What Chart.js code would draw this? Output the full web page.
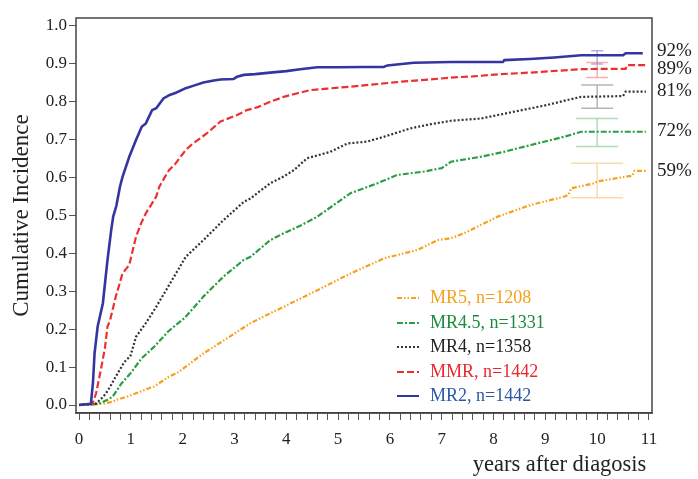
<!DOCTYPE html>
<html><head><meta charset="utf-8">
<script src="https://cdn.jsdelivr.net/npm/chart.js@4"></script>
<style>html,body{margin:0;padding:0;background:#fff}</style>
</head><body>
<canvas id="c" width="698" height="479"></canvas>
<script>
// ---- data ----
const seriesNames = ['MR2', 'MMR', 'MR4', 'MR4.5', 'MR5'];
const seriesN = [1442, 1442, 1358, 1331, 1208];

const mr2Years = [0, 0.23, 0.27, 0.30, 0.36, 0.46, 0.55, 0.62, 0.66, 0.72, 0.79, 0.84, 0.97, 1.10, 1.21, 1.29, 1.41, 1.49, 1.63, 1.75, 1.87, 2.06, 2.20, 2.40, 2.60, 2.73, 2.98, 3.05, 3.18, 3.40, 3.69, 4.00, 4.27, 4.60, 5.00, 5.50, 5.88, 5.95, 6.46, 7.18, 8.18, 8.21, 8.70, 9.17, 9.69, 10.50, 10.55, 10.88];
const mr2CumInc = [0, 0.003, 0.06, 0.136, 0.207, 0.268, 0.383, 0.460, 0.497, 0.525, 0.576, 0.602, 0.655, 0.699, 0.734, 0.743, 0.778, 0.783, 0.809, 0.818, 0.824, 0.836, 0.842, 0.851, 0.856, 0.859, 0.860, 0.866, 0.871, 0.873, 0.877, 0.881, 0.886, 0.891, 0.891, 0.892, 0.892, 0.896, 0.903, 0.905, 0.905, 0.910, 0.913, 0.917, 0.923, 0.923, 0.928, 0.928];

const mmrYears = [0, 0.26, 0.33, 0.42, 0.50, 0.55, 0.60, 0.71, 0.84, 0.97, 1.10, 1.20, 1.29, 1.40, 1.49, 1.55, 1.65, 1.74, 1.85, 2.06, 2.20, 2.47, 2.73, 3.05, 3.24, 3.45, 3.69, 3.95, 4.20, 4.47, 4.80, 5.24, 5.70, 6.21, 6.79, 7.18, 7.60, 8.14, 8.70, 9.24, 9.69, 10.00, 10.55, 10.58, 10.94];
const mmrCumInc = [0, 0.003, 0.031, 0.092, 0.15, 0.207, 0.224, 0.286, 0.347, 0.370, 0.444, 0.48, 0.506, 0.53, 0.550, 0.576, 0.60, 0.620, 0.635, 0.673, 0.690, 0.717, 0.748, 0.765, 0.778, 0.786, 0.800, 0.813, 0.822, 0.831, 0.835, 0.840, 0.846, 0.853, 0.859, 0.864, 0.867, 0.873, 0.877, 0.882, 0.886, 0.887, 0.887, 0.897, 0.897];

const mr4Years = [0, 0.32, 0.47, 0.52, 0.60, 0.71, 0.86, 0.91, 0.99, 1.10, 1.29, 1.49, 1.68, 1.87, 2.06, 2.40, 2.79, 3.18, 3.31, 3.44, 3.69, 3.95, 4.15, 4.40, 4.85, 5.18, 5.56, 5.89, 6.40, 6.79, 7.18, 7.76, 8.40, 9.05, 9.37, 9.69, 10.50, 10.55, 10.94];
const mr4CumInc = [0, 0.003, 0.022, 0.031, 0.048, 0.075, 0.110, 0.119, 0.128, 0.180, 0.216, 0.259, 0.303, 0.347, 0.391, 0.435, 0.488, 0.536, 0.545, 0.559, 0.585, 0.603, 0.620, 0.651, 0.668, 0.690, 0.695, 0.708, 0.730, 0.741, 0.750, 0.756, 0.774, 0.792, 0.803, 0.813, 0.815, 0.827, 0.827];

const mr45Years = [0, 0.37, 0.54, 0.65, 0.82, 1.02, 1.20, 1.46, 1.72, 2.04, 2.40, 2.79, 3.18, 3.31, 3.69, 3.95, 4.30, 4.60, 5.24, 5.76, 6.14, 6.66, 7.00, 7.18, 7.76, 8.20, 8.72, 9.37, 9.69, 10.94];
const mr45CumInc = [0, 0.003, 0.013, 0.022, 0.057, 0.088, 0.122, 0.155, 0.194, 0.230, 0.286, 0.339, 0.383, 0.391, 0.435, 0.453, 0.475, 0.497, 0.559, 0.585, 0.607, 0.616, 0.625, 0.642, 0.655, 0.668, 0.686, 0.708, 0.721, 0.721];

const mr5Years = [0, 0.45, 0.66, 0.71, 0.97, 1.36, 1.44, 1.74, 1.89, 2.06, 2.40, 2.86, 3.31, 3.69, 3.95, 4.60, 5.24, 5.89, 6.53, 6.92, 7.18, 7.43, 8.08, 8.72, 9.37, 9.45, 9.50, 9.95, 10.00, 10.53, 10.68, 10.72, 10.94];
const mr5CumInc = [0, 0.003, 0.009, 0.013, 0.024, 0.045, 0.048, 0.075, 0.084, 0.101, 0.136, 0.176, 0.216, 0.242, 0.259, 0.303, 0.347, 0.387, 0.409, 0.435, 0.440, 0.453, 0.497, 0.528, 0.550, 0.555, 0.572, 0.585, 0.590, 0.602, 0.605, 0.618, 0.618];

// 95% CI at 10 years (MR2, MMR, MR4, MR4.5, MR5)
const ciYear = 10;
const ciLower = [0.900, 0.864, 0.783, 0.682, 0.547];
const ciUpper = [0.935, 0.904, 0.844, 0.756, 0.638];

// end-of-curve annotations
const endLabels = ['92%', '89%', '81%', '72%', '59%'];
const endLabelAt = [0.934, 0.887, 0.828, 0.723, 0.617];

const xMajorTicks = [0, 1, 2, 3, 4, 5, 6, 7, 8, 9, 10, 11];
const xMinorPerMajor = 5;
const yTicks = [0.0, 0.1, 0.2, 0.3, 0.4, 0.5, 0.6, 0.7, 0.8, 0.9, 1.0];

// ---- styles ----
const FONT = "'Liberation Serif', 'DejaVu Serif', serif";
const styles = [
  {color: '#35359f', width: 2.6, dash: [], text: '#2b58a6', ci: 'rgba(110,110,205,0.55)', cap: 12},
  {color: '#ee2f2f', width: 2.2, dash: [7, 3], text: '#e8282f', ci: 'rgba(240,110,110,0.55)', cap: 22},
  {color: '#333333', width: 2.2, dash: [2, 2], text: '#231f20', ci: 'rgba(120,120,120,0.55)', cap: 32},
  {color: '#2b9e45', width: 2.2, dash: [6, 2, 2, 2], text: '#1b8a3c', ci: 'rgba(110,190,120,0.55)', cap: 42},
  {color: '#f6a11c', width: 2.2, dash: [5, 2, 1.5, 2, 1.5, 2], text: '#f5a01a', ci: 'rgba(245,190,110,0.55)', cap: 52}
];
const legendOrder = [4, 3, 2, 1, 0];
const legendRowsY = [298, 323, 347, 372, 396];

const seriesYears = [mr2Years, mmrYears, mr4Years, mr45Years, mr5Years];
const seriesVals = [mr2CumInc, mmrCumInc, mr4CumInc, mr45CumInc, mr5CumInc];

const datasets = seriesNames.map((name, i) => ({
  label: name + ', n=' + seriesN[i],
  data: seriesYears[i].map((t, k) => ({x: t, y: seriesVals[i][k]})),
  borderColor: styles[i].color,
  borderWidth: styles[i].width,
  borderDash: styles[i].dash,
  pointRadius: 0,
  tension: 0,
  fill: false
}));

const xTickValues = [];
for (let m = 0; m < xMajorTicks.length; m++) {
  xTickValues.push(xMajorTicks[m]);
  if (m < xMajorTicks.length - 1) {
    for (let k = 1; k < xMinorPerMajor; k++) {
      xTickValues.push(xMajorTicks[m] + k * (xMajorTicks[m + 1] - xMajorTicks[m]) / xMinorPerMajor);
    }
  }
}

const framePlugin = {
  id: 'frame',
  afterDatasetsDraw(chart) {
    const {ctx, chartArea: a} = chart;
    ctx.save();
    ctx.strokeStyle = '#444';
    ctx.lineWidth = 1.5;
    ctx.strokeRect(a.left, a.top, a.right - a.left, a.bottom - a.top);
    ctx.restore();
  }
};

const ciPlugin = {
  id: 'ciBars',
  beforeDatasetsDraw(chart) {
    const {ctx, scales: {x, y}} = chart;
    const px = x.getPixelForValue(ciYear);
    ctx.save();
    ctx.lineWidth = 1.5;
    ciLower.forEach((lo, i) => {
      const y1 = y.getPixelForValue(lo), y2 = y.getPixelForValue(ciUpper[i]);
      const h = styles[i].cap / 2;
      ctx.strokeStyle = styles[i].ci;
      ctx.beginPath();
      ctx.moveTo(px, y1); ctx.lineTo(px, y2);
      ctx.moveTo(px - h, y1); ctx.lineTo(px + h, y1);
      ctx.moveTo(px - h, y2); ctx.lineTo(px + h, y2);
      ctx.stroke();
    });
    ctx.restore();
  }
};

const annotPlugin = {
  id: 'annot',
  afterDraw(chart) {
    const {ctx, chartArea: a, scales: {y}} = chart;
    ctx.save();
    ctx.font = '19px ' + FONT;
    ctx.fillStyle = '#222';
    ctx.textAlign = 'left';
    ctx.textBaseline = 'middle';
    endLabels.forEach((t, i) => ctx.fillText(t, a.right + 5, y.getPixelForValue(endLabelAt[i])));
    ctx.font = '18px ' + FONT;
    legendOrder.forEach((di, r) => {
      const ds = chart.data.datasets[di];
      const yy = legendRowsY[r];
      ctx.strokeStyle = styles[di].color;
      ctx.lineWidth = 2;
      ctx.setLineDash(styles[di].dash);
      ctx.beginPath();
      ctx.moveTo(397, yy); ctx.lineTo(419, yy);
      ctx.stroke();
      ctx.setLineDash([]);
      ctx.fillStyle = styles[di].text;
      ctx.fillText(ds.label, 430, yy);
    });
    ctx.restore();
  }
};

new Chart(document.getElementById('c').getContext('2d'), {
  type: 'line',
  data: {datasets},
  plugins: [framePlugin, ciPlugin, annotPlugin],
  options: {
    responsive: false,
    animation: false,
    layout: {padding: {top: 18, right: 46, left: 0, bottom: 0}},
    plugins: {legend: {display: false}, tooltip: {enabled: false}},
    scales: {
      x: {
        type: 'linear',
        min: -0.058, max: 11.058,
        afterBuildTicks: s => { s.ticks = xTickValues.map(v => ({value: v})); },
        afterFit: s => { s.height = 66; },
        ticks: {
          autoSkip: false, maxRotation: 0, padding: 9,
          color: '#222', font: {family: FONT, size: 17},
          callback: v => { const r = Math.round(v); return Math.abs(v - r) < 1e-6 ? String(r) : ''; }
        },
        grid: {drawOnChartArea: false, drawTicks: true, tickLength: 7, color: '#555', lineWidth: 1},
        border: {display: true, color: '#444', width: 1.5},
        title: {display: true, text: 'years after diagosis ', align: 'end', color: '#222',
                font: {family: FONT, size: 22.5}, padding: {top: 0, bottom: 0}}
      },
      y: {
        type: 'linear',
        min: -0.0211, max: 1.0211,
        afterBuildTicks: s => { s.ticks = yTicks.map(v => ({value: v})); },
        afterFit: s => { s.width = 76; },
        ticks: {
          padding: 2, color: '#222', font: {family: FONT, size: 17},
          callback: v => Number(v).toFixed(1)
        },
        grid: {drawOnChartArea: false, drawTicks: true, tickLength: 7, color: '#555', lineWidth: 1},
        border: {display: false},
        title: {display: true, text: 'Cumulative Incidence', color: '#222',
                font: {family: FONT, size: 23}, padding: {top: 8, bottom: 0}}
      }
    }
  }
});
</script>
</body></html>
